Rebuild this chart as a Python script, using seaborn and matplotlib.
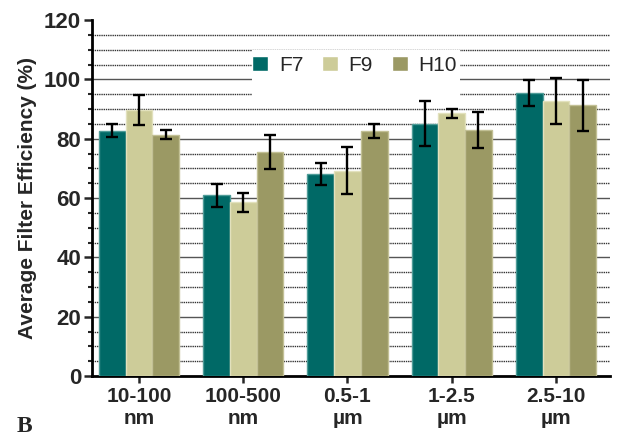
import numpy as np
import pandas as pd
import matplotlib
matplotlib.use("Agg")
import matplotlib.pyplot as plt
import seaborn as sns
from matplotlib.ticker import MultipleLocator
from matplotlib.patches import Rectangle

# data
sizes = ["10-100\nnm", "100-500\nnm", "0.5-1\nµm", "1-2.5\nµm", "2.5-10\nµm"]
filters = ["F7", "F9", "H10"]
f7 = [82.7, 60.9, 68.1, 85.1, 95.5]
f9 = [89.7, 58.5, 69.2, 88.5, 92.6]
h10 = [81.4, 75.6, 82.6, 82.9, 91.2]
f7_err = [2.1, 3.8, 3.7, 7.5, 4.4]
f9_err = [5.0, 3.3, 8.0, 1.4, 7.8]
h10_err = [1.5, 5.7, 2.5, 6.0, 8.6]

colors = ["#006966", "#cdcc99", "#9b9964"]
edges = ["#4f9c98", "#e2e1bd", "#c2c095"]

veri = pd.DataFrame({
    "size": sizes * 3,
    "filter": np.repeat(filters, len(sizes)),
    "eff": f7 + f9 + h10,
})
errs = [f7_err, f9_err, h10_err]

sns.set_style("white")
plt.rcParams["font.family"] = ["Liberation Sans", "DejaVu Sans"]

fig = plt.figure(figsize=(6.27, 4.36), dpi=100)
ax = fig.add_axes([0.147, 0.1376, 0.826, 0.8164])

sns.barplot(data=veri, x="size", y="eff", hue="filter", palette=colors,
            errorbar=None, width=0.77, saturation=1, ax=ax, zorder=3)

bar_groups = list(ax.containers)
for i, cont in enumerate(bar_groups):
    for j, bar in enumerate(cont):
        bar.set_edgecolor(edges[i])
        bar.set_linewidth(1)
        xc = bar.get_x() + bar.get_width() / 2
        ax.errorbar(xc, bar.get_height(), yerr=errs[i][j], fmt="none",
                    ecolor="black", elinewidth=1.7, capsize=4.3,
                    capthick=1.7, zorder=6)

# grid
ax.set_axisbelow(True)
for v in range(5, 120, 5):
    if v % 20 == 0:
        ax.axhline(v, color="#555555", lw=1.0, zorder=0)
    else:
        ax.axhline(v, color="#333333", lw=1.0, ls=(0, (1, 0.6)), zorder=0)

ax.set_ylim(0, 120)
ax.set_xlim(-0.45, 4.52)
ax.yaxis.set_major_locator(MultipleLocator(20))
ax.yaxis.set_minor_locator(MultipleLocator(5))
ax.tick_params(axis="y", which="major", length=6, width=1.8, direction="out",
               left=True, labelsize=16, pad=2)
ax.tick_params(axis="y", which="minor", length=3, width=1.5, direction="out",
               left=True)
ax.tick_params(axis="x", length=5, width=1.8, direction="out", bottom=True,
               labelsize=15, pad=3)
for lab in ax.get_xticklabels() + ax.get_yticklabels():
    lab.set_fontweight("bold")

for s in ["top", "right"]:
    ax.spines[s].set_visible(False)
for s in ["left", "bottom"]:
    ax.spines[s].set_color("black")
    ax.spines[s].set_linewidth(2)

ax.set_xlabel("")
ax.set_ylabel("Average Filter Efficiency (%)", fontsize=15, fontweight="bold",
              labelpad=5)

# white box behind legend
ax.add_patch(Rectangle((0.309, 0.775), 0.401, 0.141, transform=ax.transAxes,
                       facecolor="white", edgecolor="none", zorder=4.5))
leg = ax.legend(loc="upper left", bbox_to_anchor=(0.309, 0.899), ncol=3,
                frameon=False, fontsize=15, handlelength=0.76,
                handleheight=0.76, columnspacing=0.9, handletextpad=0.52,
                borderpad=0, borderaxespad=0)
leg.set_zorder(5)

fig.text(0.027, 0.01, "B", fontsize=17, fontweight="bold",
         family=["Liberation Serif", "DejaVu Serif"])

fig.savefig("out.png", dpi=100)
